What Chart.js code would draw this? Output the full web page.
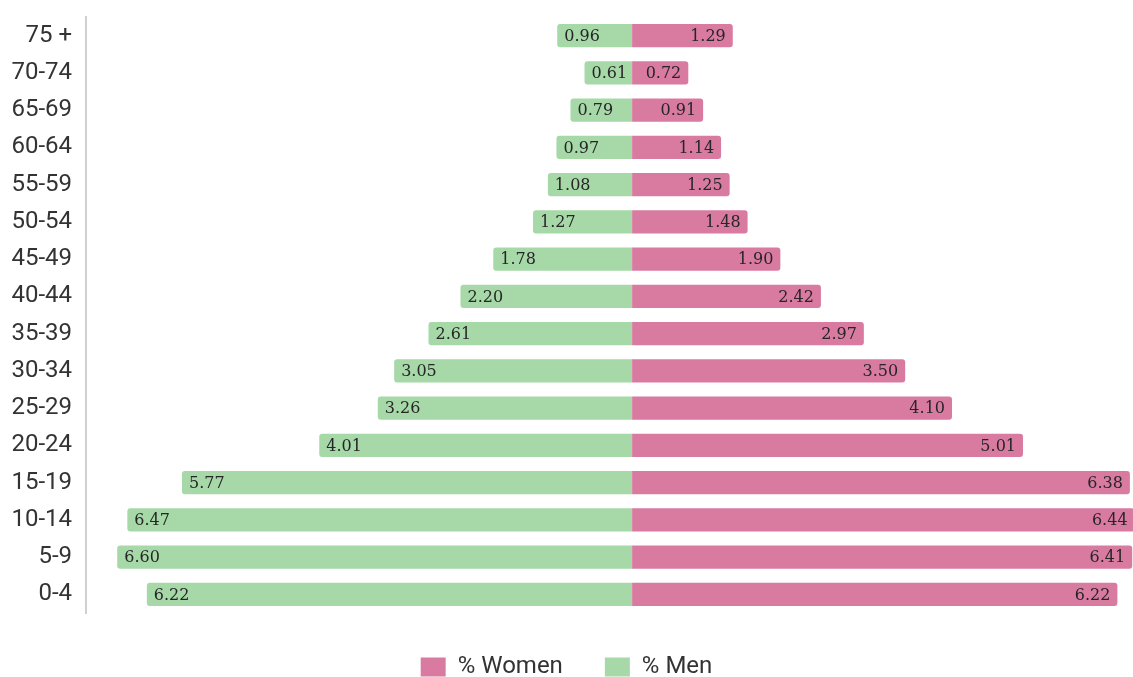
<!DOCTYPE html>
<html>
<head>
<meta charset="utf-8">
<script src="https://cdn.jsdelivr.net/npm/chart.js@4.4.0/dist/chart.umd.min.js"></script>
<style>
  html, body { margin: 0; padding: 0; background: #fff; overflow: hidden; }
  #wrap { width: 1133px; height: 677px; position: relative; }
</style>
</head>
<body>
<div id="wrap"><canvas id="pyramid"></canvas></div>
<script>
// Age groups, top to bottom
var ageGroups = ['75 +', '70-74', '65-69', '60-64', '55-59', '50-54', '45-49', '40-44',
                 '35-39', '30-34', '25-29', '20-24', '15-19', '10-14', '5-9', '0-4'];
var womenPct = [1.29, 0.72, 0.91, 1.14, 1.25, 1.48, 1.90, 2.42, 2.97, 3.50, 4.10, 5.01, 6.38, 6.44, 6.41, 6.22];
var menPct = [0.96, 0.61, 0.79, 0.97, 1.08, 1.27, 1.78, 2.20, 2.61, 3.05, 3.26, 4.01, 5.77, 6.47, 6.60, 6.22];

// draw the value at the outer end of each bar
var barLabels = {
    id: 'barLabels',
    afterDatasetsDraw: function (chart) {
        var ctx = chart.ctx;
        ctx.save();
        ctx.font = '16px "DejaVu Serif"';
        ctx.fillStyle = '#262626';
        ctx.textBaseline = 'middle';
        chart.data.datasets.forEach(function (ds, i) {
            var meta = chart.getDatasetMeta(i);
            meta.data.forEach(function (bar, j) {
                var v = ds.data[j];
                var left = v < 0;
                ctx.textAlign = left ? 'left' : 'right';
                ctx.fillText(Math.abs(v).toFixed(2), left ? bar.x + 7 : bar.x - 7, bar.y + 1);
            });
        });
        ctx.restore();
    }
};

var ctx = document.getElementById('pyramid').getContext('2d');
var pyramid = new Chart(ctx, {
    type: 'bar',
    data: {
        labels: ageGroups,
        datasets: [
            {
                label: '% Women',
                data: womenPct,
                backgroundColor: '#d97ba1',
                borderRadius: 3,
                barPercentage: 0.62,
                categoryPercentage: 1
            },
            {
                label: '% Men',
                data: menPct.map(function (v) { return -v; }),
                backgroundColor: '#a6d8a8',
                borderRadius: 3,
                barPercentage: 0.62,
                categoryPercentage: 1
            }
        ]
    },
    options: {
        indexAxis: 'y',
        responsive: true,
        maintainAspectRatio: false,
        animation: false,
        layout: { padding: { left: 0, top: 17, right: 0, bottom: 0 } },
        scales: {
            x: {
                stacked: true,
                display: false,
                min: -7,
                max: 6.42
            },
            y: {
                stacked: true,
                grid: { display: false, drawTicks: false },
                border: { display: true, color: '#d0d0d0', width: 2 },
                ticks: {
                    color: '#333',
                    padding: 14,
                    font: { family: 'Roboto', size: 24 }
                },
                afterFit: function (scale) {
                    scale.width = 86;
                    scale.paddingTop = 0;
                    scale.paddingBottom = 0;
                }
            }
        },
        plugins: {
            legend: {
                position: 'bottom',
                maxHeight: 64,
                labels: {
                    boxWidth: 25,
                    boxHeight: 19,
                    padding: 42,
                    color: '#333',
                    font: { family: 'Roboto', size: 24 }
                }
            },
            tooltip: { enabled: false }
        }
    },
    plugins: [barLabels]
});
</script>
</body>
</html>
